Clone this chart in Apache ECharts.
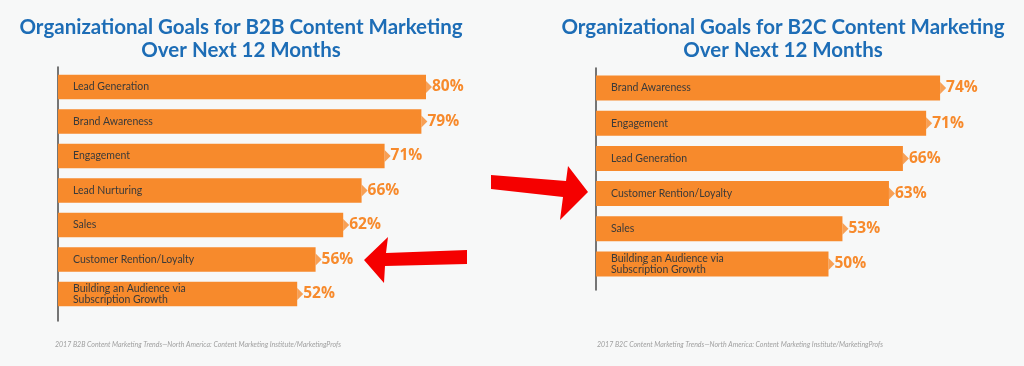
<!DOCTYPE html>
<html>
<head>
<meta charset="utf-8">
<script src="https://cdn.jsdelivr.net/npm/echarts@6/dist/echarts.min.js"></script>
<style>
html,body{margin:0;padding:0;background:#f7f8f8;}
#c{width:1024px;height:366px;}
</style>
</head>
<body>
<div id="c"></div>
<script>
// ---- data ----
var b2bCategories = ['Lead Generation', 'Brand Awareness', 'Engagement', 'Lead Nurturing', 'Sales', 'Customer Rention/Loyalty', 'Building an Audience via\nSubscription Growth'];
var b2bValues = [80, 79, 71, 66, 62, 56, 52];
var b2cCategories = ['Brand Awareness', 'Engagement', 'Lead Generation', 'Customer Rention/Loyalty', 'Sales', 'Building an Audience via\nSubscription Growth'];
var b2cValues = [74, 71, 66, 63, 53, 50];
var b2bTitle = 'Organizational Goals for B2B Content Marketing\nOver Next 12 Months';
var b2cTitle = 'Organizational Goals for B2C Content Marketing\nOver Next 12 Months';
var b2bSource = '2017 B2B Content Marketing Trends\u2014North America: Content Marketing Institute/MarketingProfs';
var b2cSource = '2017 B2C Content Marketing Trends\u2014North America: Content Marketing Institute/MarketingProfs';

var ORANGE = '#f78a2c';
var BLUE = '#1d6db6';
var chart = echarts.init(document.getElementById('c'), null, {renderer: 'canvas'});

function catAxis(gridIndex, cats) {
  return {
    type: 'category', gridIndex: gridIndex, data: cats, inverse: true, z: 10,
    axisLine: {show: false}, axisTick: {show: false},
    axisLabel: {inside: true, margin: 15, color: '#3a3a3a', fontFamily: 'Lato', fontSize: 10.5, lineHeight: 10.5}
  };
}
function lineAxis(gridIndex) {
  return {
    type: 'value', gridIndex: gridIndex, min: 0, max: 1,
    axisLine: {show: true, lineStyle: {color: '#4a4a4a', width: 1.5}},
    axisTick: {show: false}, axisLabel: {show: false}, splitLine: {show: false}
  };
}
function valAxis(gridIndex, max) {
  return {type: 'value', gridIndex: gridIndex, min: 0, max: max, show: false, splitLine: {show: false}};
}
function barSeries(idx, vals, bw) {
  return {
    type: 'bar', xAxisIndex: idx, yAxisIndex: idx, data: vals, barWidth: bw,
    itemStyle: {color: ORANGE}, silent: true,
    label: {show: true, position: 'right', distance: 6, formatter: '{c}%', color: ORANGE,
      fontFamily: 'Open Sans', fontWeight: 'bold', fontSize: 15.5}
  };
}
function tipSeries(idx, vals) {
  return {
    type: 'scatter', xAxisIndex: idx, yAxisIndex: idx, data: vals, silent: true,
    symbol: 'triangle', symbolSize: [12, 6], symbolRotate: -90, symbolOffset: [3, 0],
    itemStyle: {color: ORANGE}, z: 3
  };
}

chart.setOption({
  backgroundColor: '#f7f8f8',
  animation: false,
  title: [
    {text: b2bTitle, left: 241, top: 16, textAlign: 'center', padding: 0,
      textStyle: {color: BLUE, fontFamily: 'Lato', fontWeight: 'bold', fontSize: 20.5, lineHeight: 23}},
    {text: b2cTitle, left: 783, top: 16, textAlign: 'center', padding: 0,
      textStyle: {color: BLUE, fontFamily: 'Lato', fontWeight: 'bold', fontSize: 20.5, lineHeight: 23}}
  ],
  grid: [
    {left: 58, top: 69.75, width: 460, height: 241.5},
    {left: 596, top: 70.4, width: 418.5, height: 211.2},
    {left: 58, top: 67, width: 1, height: 254},
    {left: 596, top: 68, width: 1, height: 222}
  ],
  xAxis: [valAxis(0, 100), valAxis(1, 90), {type: 'value', gridIndex: 2, show: false}, {type: 'value', gridIndex: 3, show: false}],
  yAxis: [catAxis(0, b2bCategories), catAxis(1, b2cCategories), lineAxis(2), lineAxis(3)],
  series: [
    barSeries(0, b2bValues, 24.5),
    tipSeries(0, b2bValues),
    barSeries(1, b2cValues, 25),
    tipSeries(1, b2cValues)
  ],
  graphic: [
    {type: 'polygon', silent: true, shape: {points: [[364,260],[388,237],[386,253],[467,250],[467,264],[385,266],[384,283]]}, style: {fill: '#f50000'}},
    {type: 'polygon', silent: true, shape: {points: [[491,175],[566,181],[568,166],[588,192],[560,220],[563,197],[491,189]]}, style: {fill: '#f50000'}},
    {type: 'text', silent: true, left: 55, top: 341, style: {text: b2bSource, fill: '#a0a0a0', font: 'italic 7px Lato'}},
    {type: 'text', silent: true, left: 597, top: 341, style: {text: b2cSource, fill: '#a0a0a0', font: 'italic 7px Lato'}}
  ]
});
</script>
</body>
</html>
